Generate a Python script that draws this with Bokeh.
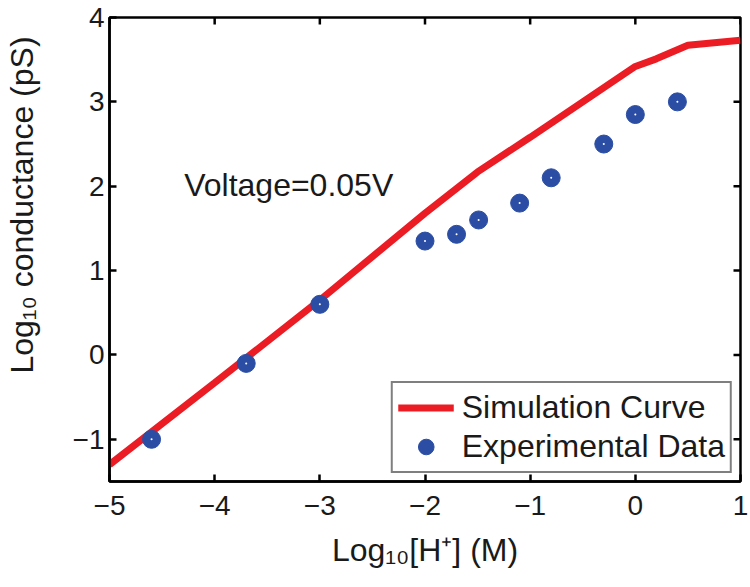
import numpy as np
from bokeh.plotting import figure
from bokeh.models import Range1d, Legend, LegendItem, Label, FixedTicker
from bokeh.embed import file_html
from bokeh.resources import INLINE

# ---- data ----
sim_x = [-5.0, -4.0, -3.0, -2.0, -1.5, -1.0, -0.5, 0.0, 0.2, 0.5, 1.0]
sim_y = [-1.30, -0.33, 0.65, 1.68, 2.17, 2.58, 3.00, 3.42, 3.51, 3.67, 3.73]

exp_x = [-4.6, -3.7, -3.0, -2.0, -1.7, -1.49, -1.1, -0.8, -0.3, 0.0, 0.4]
exp_y = [-1.0, -0.1, 0.6, 1.35, 1.43, 1.6, 1.8, 2.1, 2.5, 2.85, 3.0]

x_ticks = [-5, -4, -3, -2, -1, 0, 1]
x_tick_labels = ["\u22125", "\u22124", "\u22123", "\u22122", "\u22121", "0", "1"]
y_ticks = [-1, 0, 1, 2, 3, 4]
y_tick_labels = ["\u22121", "0", "1", "2", "3", "4"]

x_lo, x_hi = -5, 1
y_lo, y_hi = -1.5, 4

FONT = "Liberation Sans"
RED = "#ec1c24"
BLUE = "#2b4ea4"
INK = "#1a1a1a"
NBSP = "\u00a0"

p = figure(width=748, height=585,
           x_range=Range1d(x_lo, x_hi), y_range=Range1d(y_lo, y_hi),
           output_backend="svg", toolbar_location=None,
           min_border_left=107, min_border_right=8,
           min_border_top=17, min_border_bottom=104)

p.grid.visible = False
p.outline_line_color = "black"
p.outline_line_width = 2.5
p.background_fill_color = "white"
p.border_fill_color = "white"

line_r = p.line(sim_x, sim_y, line_color=RED, line_width=7)
circ_r = p.scatter(exp_x, exp_y, size=18, fill_color=BLUE, line_color=BLUE, marker="circle")
dot_r = p.scatter(exp_x, exp_y, size=2, fill_color="white", line_color=None, marker="circle")

# inward ticks on the top and right frame edges (clipped half of a dash marker)
p.scatter(x_ticks, [y_hi] * len(x_ticks), marker="dash", size=14, angle=np.pi / 2,
          line_color="black", line_width=2.5)
p.scatter([x_hi] * len(y_ticks), y_ticks, marker="dash", size=14,
          line_color="black", line_width=2.5)

def style_axis(ax, ticks, labels):
    ax.ticker = FixedTicker(ticks=ticks)
    ax.major_label_overrides = {t: l for t, l in zip(ticks, labels)}
    ax.axis_line_width = 2.5
    ax.axis_line_color = "black"
    ax.major_tick_line_width = 2.5
    ax.major_tick_in = 7
    ax.major_tick_out = 0
    ax.minor_tick_line_color = None
    ax.major_label_text_font = FONT
    ax.major_label_text_color = INK
    ax.major_label_text_font_size = "28px"
    ax.axis_label_text_font = FONT
    ax.axis_label_text_font_size = "32px"
    ax.axis_label_text_font_style = "normal"
    ax.axis_label_text_color = INK

xa = p.xaxis[0]
ya = p.yaxis[0]
style_axis(xa, x_ticks, x_tick_labels)
style_axis(ya, y_ticks, y_tick_labels)
xa.major_label_standoff = 14
ya.major_label_standoff = 5
xa.axis_label = "Log\u2081\u2080[H\u207a] (M)"
ya.axis_label = NBSP * 10 + "Log\u2081\u2080 conductance (pS)"
xa.axis_label_standoff = 14
ya.axis_label_standoff = 30

# annotation
p.add_layout(Label(x=-4.29, y=2.01, text="Voltage=0.05V", text_font=FONT,
                   text_font_size="32px", text_color=INK,
                   text_align="left", text_baseline="alphabetic"))

legend = Legend(items=[
    LegendItem(label="Simulation Curve", renderers=[line_r]),
    LegendItem(label="Experimental Data", renderers=[circ_r]),
], location="bottom_right")
legend.margin = 8
legend.border_line_color = "black"
legend.border_line_width = 2
legend.background_fill_color = "white"
legend.background_fill_alpha = 1
legend.label_text_font = FONT
legend.label_text_font_size = "32px"
legend.label_text_color = INK
legend.glyph_width = 56
legend.glyph_height = 39
legend.label_standoff = 8
legend.padding = 5
legend.spacing = 0
p.add_layout(legend)

open("out.html", "w").write(file_html(p, INLINE))
